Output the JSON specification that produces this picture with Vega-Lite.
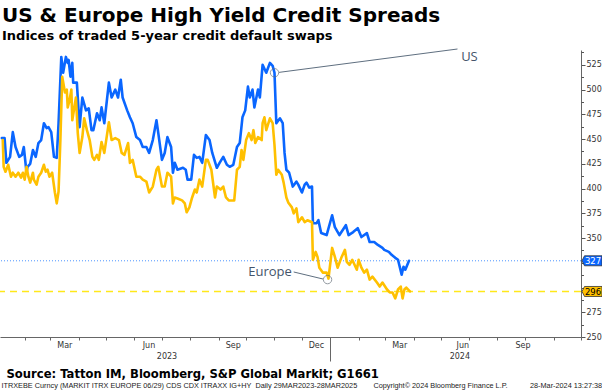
{
  "$schema": "https://vega.github.io/schema/vega-lite/v6.json",
  "width": 581,
  "height": 287,
  "autosize": {"type": "none"},
  "padding": {"left": 0, "top": 50, "right": 21, "bottom": 55},
  "background": "#ffffff",
  "config": {"view": {"stroke": null}},
  "title": {
    "text": "US & Europe High Yield Credit Spreads",
    "subtitle": "Indices of traded 5-year credit default swaps",
    "anchor": "start",
    "frame": "group",
    "font": "DejaVu Sans",
    "fontSize": 20,
    "fontWeight": "bold",
    "color": "#000000",
    "subtitleFont": "DejaVu Sans",
    "subtitleFontSize": 13,
    "subtitleFontWeight": "bold",
    "subtitleColor": "#000000",
    "subtitlePadding": 4,
    "offset": 4,
    "dx": 2
  },
  "datasets": {
    "series": [
      {"d":"2023-01-07","s":"US","v":451},{"d":"2023-01-10","s":"US","v":451},{"d":"2023-01-12","s":"US","v":426},{"d":"2023-01-16","s":"US","v":432},{"d":"2023-01-19","s":"US","v":457},{"d":"2023-01-22","s":"US","v":442},{"d":"2023-01-26","s":"US","v":432},{"d":"2023-01-29","s":"US","v":434},{"d":"2023-01-31","s":"US","v":442},{"d":"2023-02-03","s":"US","v":416},{"d":"2023-02-04","s":"US","v":422},{"d":"2023-02-07","s":"US","v":425},{"d":"2023-02-10","s":"US","v":439},{"d":"2023-02-13","s":"US","v":432},{"d":"2023-02-16","s":"US","v":446},{"d":"2023-02-19","s":"US","v":449},{"d":"2023-02-22","s":"US","v":466},{"d":"2023-02-25","s":"US","v":461},{"d":"2023-02-27","s":"US","v":462},{"d":"2023-03-02","s":"US","v":457},{"d":"2023-03-05","s":"US","v":432},{"d":"2023-03-08","s":"US","v":431},{"d":"2023-03-10","s":"US","v":466},{"d":"2023-03-13","s":"US","v":533},{"d":"2023-03-15","s":"US","v":517},{"d":"2023-03-18","s":"US","v":533},{"d":"2023-03-20","s":"US","v":527},{"d":"2023-03-21","s":"US","v":530},{"d":"2023-03-23","s":"US","v":513},{"d":"2023-03-25","s":"US","v":527},{"d":"2023-03-26","s":"US","v":507},{"d":"2023-03-30","s":"US","v":507},{"d":"2023-04-02","s":"US","v":462},{"d":"2023-04-05","s":"US","v":492},{"d":"2023-04-09","s":"US","v":479},{"d":"2023-04-12","s":"US","v":481},{"d":"2023-04-15","s":"US","v":459},{"d":"2023-04-17","s":"US","v":459},{"d":"2023-04-21","s":"US","v":476},{"d":"2023-04-24","s":"US","v":469},{"d":"2023-04-26","s":"US","v":482},{"d":"2023-04-29","s":"US","v":466},{"d":"2023-05-04","s":"US","v":507},{"d":"2023-05-07","s":"US","v":492},{"d":"2023-05-11","s":"US","v":500},{"d":"2023-05-14","s":"US","v":492},{"d":"2023-05-17","s":"US","v":510},{"d":"2023-05-19","s":"US","v":492},{"d":"2023-05-24","s":"US","v":479},{"d":"2023-05-27","s":"US","v":472},{"d":"2023-05-30","s":"US","v":466},{"d":"2023-06-03","s":"US","v":452},{"d":"2023-06-07","s":"US","v":449},{"d":"2023-06-10","s":"US","v":442},{"d":"2023-06-14","s":"US","v":442},{"d":"2023-06-17","s":"US","v":436},{"d":"2023-06-21","s":"US","v":449},{"d":"2023-06-25","s":"US","v":469},{"d":"2023-06-27","s":"US","v":456},{"d":"2023-07-01","s":"US","v":429},{"d":"2023-07-04","s":"US","v":436},{"d":"2023-07-07","s":"US","v":452},{"d":"2023-07-11","s":"US","v":442},{"d":"2023-07-13","s":"US","v":416},{"d":"2023-07-15","s":"US","v":426},{"d":"2023-07-18","s":"US","v":419},{"d":"2023-07-24","s":"US","v":421},{"d":"2023-07-27","s":"US","v":419},{"d":"2023-07-29","s":"US","v":409},{"d":"2023-08-02","s":"US","v":409},{"d":"2023-08-05","s":"US","v":434},{"d":"2023-08-08","s":"US","v":431},{"d":"2023-08-11","s":"US","v":432},{"d":"2023-08-14","s":"US","v":426},{"d":"2023-08-18","s":"US","v":454},{"d":"2023-08-22","s":"US","v":449},{"d":"2023-08-25","s":"US","v":436},{"d":"2023-08-30","s":"US","v":421},{"d":"2023-09-02","s":"US","v":426},{"d":"2023-09-06","s":"US","v":432},{"d":"2023-09-10","s":"US","v":424},{"d":"2023-09-13","s":"US","v":422},{"d":"2023-09-17","s":"US","v":424},{"d":"2023-09-21","s":"US","v":442},{"d":"2023-09-24","s":"US","v":446},{"d":"2023-09-27","s":"US","v":472},{"d":"2023-09-30","s":"US","v":479},{"d":"2023-10-03","s":"US","v":503},{"d":"2023-10-05","s":"US","v":492},{"d":"2023-10-08","s":"US","v":500},{"d":"2023-10-10","s":"US","v":482},{"d":"2023-10-14","s":"US","v":500},{"d":"2023-10-16","s":"US","v":492},{"d":"2023-10-19","s":"US","v":525},{"d":"2023-10-23","s":"US","v":517},{"d":"2023-10-27","s":"US","v":527},{"d":"2023-10-30","s":"US","v":524},{"d":"2023-11-01","s":"US","v":517},{"d":"2023-11-03","s":"US","v":466},{"d":"2023-11-07","s":"US","v":471},{"d":"2023-11-10","s":"US","v":466},{"d":"2023-11-12","s":"US","v":436},{"d":"2023-11-14","s":"US","v":419},{"d":"2023-11-17","s":"US","v":416},{"d":"2023-11-21","s":"US","v":402},{"d":"2023-11-25","s":"US","v":407},{"d":"2023-11-27","s":"US","v":404},{"d":"2023-12-01","s":"US","v":396},{"d":"2023-12-04","s":"US","v":404},{"d":"2023-12-06","s":"US","v":406},{"d":"2023-12-09","s":"US","v":401},{"d":"2023-12-12","s":"US","v":402},{"d":"2023-12-13","s":"US","v":365},{"d":"2023-12-17","s":"US","v":365},{"d":"2023-12-19","s":"US","v":368},{"d":"2023-12-22","s":"US","v":355},{"d":"2023-12-28","s":"US","v":353},{"d":"2024-01-03","s":"US","v":373},{"d":"2024-01-06","s":"US","v":361},{"d":"2024-01-11","s":"US","v":353},{"d":"2024-01-18","s":"US","v":363},{"d":"2024-01-21","s":"US","v":353},{"d":"2024-01-26","s":"US","v":356},{"d":"2024-01-31","s":"US","v":360},{"d":"2024-02-04","s":"US","v":351},{"d":"2024-02-10","s":"US","v":355},{"d":"2024-02-13","s":"US","v":346},{"d":"2024-02-18","s":"US","v":346},{"d":"2024-02-22","s":"US","v":343},{"d":"2024-02-27","s":"US","v":340},{"d":"2024-02-29","s":"US","v":338},{"d":"2024-03-05","s":"US","v":336},{"d":"2024-03-08","s":"US","v":333},{"d":"2024-03-12","s":"US","v":330},{"d":"2024-03-15","s":"US","v":328},{"d":"2024-03-19","s":"US","v":313},{"d":"2024-03-21","s":"US","v":321},{"d":"2024-03-23","s":"US","v":318},{"d":"2024-03-27","s":"US","v":327},
      {"d":"2023-01-08","s":"Europe","v":449},{"d":"2023-01-09","s":"Europe","v":422},{"d":"2023-01-11","s":"Europe","v":417},{"d":"2023-01-14","s":"Europe","v":424},{"d":"2023-01-17","s":"Europe","v":412},{"d":"2023-01-19","s":"Europe","v":416},{"d":"2023-01-22","s":"Europe","v":412},{"d":"2023-01-25","s":"Europe","v":416},{"d":"2023-01-28","s":"Europe","v":411},{"d":"2023-01-30","s":"Europe","v":416},{"d":"2023-02-01","s":"Europe","v":409},{"d":"2023-02-03","s":"Europe","v":422},{"d":"2023-02-05","s":"Europe","v":412},{"d":"2023-02-07","s":"Europe","v":406},{"d":"2023-02-10","s":"Europe","v":416},{"d":"2023-02-11","s":"Europe","v":409},{"d":"2023-02-14","s":"Europe","v":404},{"d":"2023-02-16","s":"Europe","v":412},{"d":"2023-02-19","s":"Europe","v":416},{"d":"2023-02-22","s":"Europe","v":424},{"d":"2023-02-24","s":"Europe","v":417},{"d":"2023-02-26","s":"Europe","v":419},{"d":"2023-02-28","s":"Europe","v":412},{"d":"2023-03-03","s":"Europe","v":416},{"d":"2023-03-06","s":"Europe","v":396},{"d":"2023-03-08","s":"Europe","v":385},{"d":"2023-03-10","s":"Europe","v":397},{"d":"2023-03-12","s":"Europe","v":449},{"d":"2023-03-14","s":"Europe","v":513},{"d":"2023-03-17","s":"Europe","v":497},{"d":"2023-03-19","s":"Europe","v":500},{"d":"2023-03-20","s":"Europe","v":482},{"d":"2023-03-22","s":"Europe","v":489},{"d":"2023-03-24","s":"Europe","v":500},{"d":"2023-03-25","s":"Europe","v":469},{"d":"2023-03-29","s":"Europe","v":492},{"d":"2023-03-31","s":"Europe","v":456},{"d":"2023-04-02","s":"Europe","v":436},{"d":"2023-04-05","s":"Europe","v":452},{"d":"2023-04-07","s":"Europe","v":471},{"d":"2023-04-10","s":"Europe","v":459},{"d":"2023-04-13","s":"Europe","v":449},{"d":"2023-04-16","s":"Europe","v":432},{"d":"2023-04-18","s":"Europe","v":429},{"d":"2023-04-21","s":"Europe","v":434},{"d":"2023-04-23","s":"Europe","v":429},{"d":"2023-04-26","s":"Europe","v":447},{"d":"2023-04-29","s":"Europe","v":436},{"d":"2023-05-04","s":"Europe","v":467},{"d":"2023-05-07","s":"Europe","v":449},{"d":"2023-05-11","s":"Europe","v":451},{"d":"2023-05-15","s":"Europe","v":449},{"d":"2023-05-18","s":"Europe","v":436},{"d":"2023-05-21","s":"Europe","v":434},{"d":"2023-05-25","s":"Europe","v":446},{"d":"2023-05-27","s":"Europe","v":426},{"d":"2023-05-30","s":"Europe","v":429},{"d":"2023-06-03","s":"Europe","v":412},{"d":"2023-06-07","s":"Europe","v":412},{"d":"2023-06-10","s":"Europe","v":409},{"d":"2023-06-14","s":"Europe","v":407},{"d":"2023-06-17","s":"Europe","v":396},{"d":"2023-06-21","s":"Europe","v":402},{"d":"2023-06-25","s":"Europe","v":419},{"d":"2023-06-27","s":"Europe","v":422},{"d":"2023-07-01","s":"Europe","v":402},{"d":"2023-07-04","s":"Europe","v":402},{"d":"2023-07-07","s":"Europe","v":416},{"d":"2023-07-11","s":"Europe","v":412},{"d":"2023-07-13","s":"Europe","v":385},{"d":"2023-07-15","s":"Europe","v":391},{"d":"2023-07-18","s":"Europe","v":390},{"d":"2023-07-23","s":"Europe","v":388},{"d":"2023-07-26","s":"Europe","v":385},{"d":"2023-07-28","s":"Europe","v":376},{"d":"2023-07-31","s":"Europe","v":381},{"d":"2023-08-03","s":"Europe","v":391},{"d":"2023-08-06","s":"Europe","v":399},{"d":"2023-08-08","s":"Europe","v":396},{"d":"2023-08-11","s":"Europe","v":409},{"d":"2023-08-14","s":"Europe","v":402},{"d":"2023-08-18","s":"Europe","v":429},{"d":"2023-08-20","s":"Europe","v":429},{"d":"2023-08-24","s":"Europe","v":419},{"d":"2023-08-28","s":"Europe","v":391},{"d":"2023-08-30","s":"Europe","v":402},{"d":"2023-09-03","s":"Europe","v":399},{"d":"2023-09-06","s":"Europe","v":402},{"d":"2023-09-09","s":"Europe","v":391},{"d":"2023-09-12","s":"Europe","v":388},{"d":"2023-09-15","s":"Europe","v":388},{"d":"2023-09-18","s":"Europe","v":388},{"d":"2023-09-21","s":"Europe","v":419},{"d":"2023-09-24","s":"Europe","v":422},{"d":"2023-09-26","s":"Europe","v":439},{"d":"2023-09-28","s":"Europe","v":429},{"d":"2023-10-01","s":"Europe","v":449},{"d":"2023-10-04","s":"Europe","v":456},{"d":"2023-10-07","s":"Europe","v":449},{"d":"2023-10-09","s":"Europe","v":459},{"d":"2023-10-11","s":"Europe","v":446},{"d":"2023-10-14","s":"Europe","v":452},{"d":"2023-10-18","s":"Europe","v":449},{"d":"2023-10-19","s":"Europe","v":466},{"d":"2023-10-21","s":"Europe","v":472},{"d":"2023-10-23","s":"Europe","v":459},{"d":"2023-10-27","s":"Europe","v":471},{"d":"2023-10-30","s":"Europe","v":466},{"d":"2023-11-01","s":"Europe","v":444},{"d":"2023-11-03","s":"Europe","v":414},{"d":"2023-11-05","s":"Europe","v":419},{"d":"2023-11-09","s":"Europe","v":414},{"d":"2023-11-11","s":"Europe","v":406},{"d":"2023-11-14","s":"Europe","v":391},{"d":"2023-11-16","s":"Europe","v":386},{"d":"2023-11-20","s":"Europe","v":381},{"d":"2023-11-22","s":"Europe","v":375},{"d":"2023-11-25","s":"Europe","v":380},{"d":"2023-11-27","s":"Europe","v":366},{"d":"2023-12-01","s":"Europe","v":371},{"d":"2023-12-04","s":"Europe","v":366},{"d":"2023-12-07","s":"Europe","v":368},{"d":"2023-12-12","s":"Europe","v":366},{"d":"2023-12-13","s":"Europe","v":328},{"d":"2023-12-16","s":"Europe","v":336},{"d":"2023-12-18","s":"Europe","v":331},{"d":"2023-12-20","s":"Europe","v":320},{"d":"2023-12-24","s":"Europe","v":315},{"d":"2023-12-28","s":"Europe","v":315},{"d":"2023-12-30","s":"Europe","v":309},{"d":"2024-01-03","s":"Europe","v":340},{"d":"2024-01-06","s":"Europe","v":331},{"d":"2024-01-09","s":"Europe","v":320},{"d":"2024-01-13","s":"Europe","v":330},{"d":"2024-01-17","s":"Europe","v":338},{"d":"2024-01-19","s":"Europe","v":326},{"d":"2024-01-22","s":"Europe","v":323},{"d":"2024-01-25","s":"Europe","v":328},{"d":"2024-01-30","s":"Europe","v":318},{"d":"2024-02-01","s":"Europe","v":328},{"d":"2024-02-04","s":"Europe","v":320},{"d":"2024-02-07","s":"Europe","v":315},{"d":"2024-02-10","s":"Europe","v":318},{"d":"2024-02-13","s":"Europe","v":308},{"d":"2024-02-16","s":"Europe","v":311},{"d":"2024-02-21","s":"Europe","v":305},{"d":"2024-02-24","s":"Europe","v":301},{"d":"2024-02-27","s":"Europe","v":305},{"d":"2024-03-03","s":"Europe","v":298},{"d":"2024-03-06","s":"Europe","v":295},{"d":"2024-03-09","s":"Europe","v":295},{"d":"2024-03-12","s":"Europe","v":289},{"d":"2024-03-15","s":"Europe","v":298},{"d":"2024-03-18","s":"Europe","v":301},{"d":"2024-03-20","s":"Europe","v":289},{"d":"2024-03-22","s":"Europe","v":298},{"d":"2024-03-24","s":"Europe","v":300},{"d":"2024-03-28","s":"Europe","v":296}
    ],
    "last": [
      {"d":"2024-10-01","s":"US","v":327,"lab":"327"},
      {"d":"2024-10-01","s":"Europe","v":296,"lab":"296"}
    ]
  },
  "resolve": {"axis": {"x": "independent", "y": "independent"}},
  "layer": [
    {
      "data": {"values": [{"s":"US","v":327}]},
      "mark": {"type": "rule", "color": "#4d94ff", "strokeWidth": 1, "strokeDash": [1, 2]},
      "encoding": {"y": {"field": "v", "type": "quantitative", "axis": null}}
    },
    {
      "data": {"values": [{"s":"Europe","v":296}]},
      "mark": {"type": "rule", "color": "#ffe81a", "strokeWidth": 1.4, "strokeDash": [7, 5]},
      "encoding": {"y": {"field": "v", "type": "quantitative", "axis": null}}
    },
    {
      "data": {"name": "series"},
      "mark": {"type": "line", "strokeWidth": 2.6, "strokeJoin": "round", "strokeCap": "round"},
      "encoding": {
        "x": {
          "field": "d", "type": "temporal",
          "scale": {"domain": [{"year": 2023, "month": 1, "date": 5}, {"year": 2024, "month": 10, "date": 1}]},
          "axis": {
            "orient": "bottom",
            "zindex": 0,
            "grid": false,
            "tickCount": {"interval": "month", "step": 1},
            "labelExpr": "indexof([2,5,8,11], month(datum.value)) >= 0 ? timeFormat(datum.value, '%b') : ''",
            "labelOffset": {"condition": [{"test": "year(datum.value) == 2024 && month(datum.value) == 5", "value": -7}, {"test": "year(datum.value) == 2024 && month(datum.value) == 8", "value": -31}], "value": 14},
            "labelOverlap": false,
            "labelFlush": false,
            "labelBound": false,
            "labelFont": "DejaVu Sans",
            "labelFontSize": 8,
            "labelColor": "#333333",
            "labelPadding": 1,
            "tickSize": {"condition": {"test": "month(datum.value) == 0", "value": 24}, "value": 3},
            "tickColor": "#666666",
            "domainColor": "#666666",
            "title": "ITRXEBE Curncy (MARKIT ITRX EUROPE 06/29) CDS CDX ITRAXX IG+HY\u00a0\u00a0Daily 29MAR2023-28MAR2025\u00a0\u00a0\u00a0\u00a0\u00a0\u00a0\u00a0\u00a0Copyright\u00a9 2024 Bloomberg Finance L.P.\u00a0\u00a0\u00a0\u00a0\u00a0\u00a0\u00a0\u00a0\u00a0\u00a0\u00a028-Mar-2024 13:27:38",
            "titleX": 1,
            "titleY": 48,
            "titleAlign": "left",
            "titleBaseline": "middle",
            "titleFont": "Liberation Sans",
            "titleFontSize": 7.3,
            "titleFontWeight": "normal",
            "titleColor": "#222222"
          }
        },
        "y": {
          "field": "v", "type": "quantitative",
          "scale": {"domain": [250, 540], "nice": false, "zero": false},
          "axis": {
            "orient": "right",
            "zindex": 0,
            "grid": false,
            "values": [250, 275, 300, 325, 350, 375, 400, 425, 450, 475, 500, 525],
            "labelExpr": "datum.value == 300 || datum.value == 325 ? '' : datum.label",
            "tickSize": 4,
            "tickColor": "#555555",
            "domainColor": "#666666",
            "labelFont": "DejaVu Sans",
            "labelFontSize": 8,
            "labelColor": "#333333",
            "labelPadding": 1,
            "title": null
          }
        },
        "color": {"field": "s", "type": "nominal", "scale": {"domain": ["US", "Europe"], "range": ["#0a66ff", "#ffc000"]}, "legend": null}
      }
    },
    {
      "data": {"values": [{"v": 262.5}]},
      "mark": {"type": "point", "opacity": 0},
      "encoding": {
        "y": {
          "field": "v", "type": "quantitative",
          "axis": {
            "orient": "right", "zindex": 0, "grid": false, "labels": false, "domain": false,
            "values": [262.5, 287.5, 312.5, 337.5, 362.5, 387.5, 412.5, 437.5, 462.5, 487.5, 512.5, 537.5],
            "tickSize": 2.5, "tickColor": "#555555", "title": null
          }
        }
      }
    },
    {
      "data": {"values": [{"d": "2023-07-05"}]},
      "mark": {"type": "point", "opacity": 0},
      "encoding": {
        "x": {
          "field": "d", "type": "temporal",
          "axis": {
            "orient": "bottom", "zindex": 0, "grid": false, "domain": false, "ticks": false,
            "values": [{"year": 2023, "month": 7, "date": 6}, {"year": 2024, "month": 5, "date": 21}],
            "format": "%Y",
            "labelPadding": 15,
            "labelFlush": false,
            "labelOverlap": false,
            "labelFont": "DejaVu Sans",
            "labelFontSize": 8,
            "labelColor": "#333333",
            "title": "Source: Tatton IM, Bloomberg, S&P Global Markit; G1661",
            "titleX": 6,
            "titleY": 40,
            "titleAlign": "left",
            "titleBaseline": "alphabetic",
            "titleFont": "DejaVu Sans",
            "titleFontSize": 11.6,
            "titleFontWeight": "bold",
            "titleColor": "#000000"
          }
        }
      }
    },
    {
      "data": {"values": [{"g": "US", "d": "2023-11-06", "v": 517.4}, {"g": "US", "d": "2024-05-19", "v": 541}, {"g": "EU", "d": "2023-11-22", "v": 315.7}, {"g": "EU", "d": "2023-12-24", "v": 308.6}]},
      "mark": {"type": "line", "color": "#5f6f80", "strokeWidth": 1, "clip": false},
      "encoding": {
        "x": {"field": "d", "type": "temporal", "axis": null},
        "y": {"field": "v", "type": "quantitative", "axis": null},
        "detail": {"field": "g"}
      }
    },
    {
      "data": {"values": [{"d": "2023-11-01", "v": 517}, {"d": "2023-12-29", "v": 308}]},
      "mark": {"type": "point", "shape": "circle", "size": 70, "filled": false, "stroke": "#66707a", "strokeWidth": 1},
      "encoding": {
        "x": {"field": "d", "type": "temporal", "axis": null},
        "y": {"field": "v", "type": "quantitative", "axis": null}
      }
    },
    {
      "data": {"values": [{"d": "2024-05-23", "v": 533, "t": "US"}]},
      "mark": {"type": "text", "align": "left", "baseline": "middle", "font": "Open Sans", "fontSize": 13, "color": "#44546a"},
      "encoding": {
        "x": {"field": "d", "type": "temporal", "axis": null},
        "y": {"field": "v", "type": "quantitative", "axis": null},
        "text": {"field": "t"}
      }
    },
    {
      "data": {"values": [{"d": "2023-11-20", "v": 316, "t": "Europe"}]},
      "mark": {"type": "text", "align": "right", "baseline": "middle", "font": "Open Sans", "fontSize": 13, "color": "#44546a"},
      "encoding": {
        "x": {"field": "d", "type": "temporal", "axis": null},
        "y": {"field": "v", "type": "quantitative", "axis": null},
        "text": {"field": "t"}
      }
    },
    {
      "data": {"name": "last"},
      "mark": {"type": "point", "shape": "M-1,0L-0.75,-0.5L1,-0.5L1,0.5L-0.75,0.5Z", "size": 400, "filled": true, "opacity": 1, "stroke": "#333333", "strokeWidth": 0.8, "xOffset": 11, "clip": false},
      "encoding": {
        "x": {"field": "d", "type": "temporal", "axis": null},
        "y": {"field": "v", "type": "quantitative", "axis": null},
        "color": {"field": "s", "type": "nominal", "legend": null}
      }
    },
    {
      "data": {"name": "last"},
      "mark": {"type": "text", "align": "center", "baseline": "middle", "font": "DejaVu Sans", "fontSize": 8.5, "xOffset": 12, "dy": 0.5, "clip": false},
      "encoding": {
        "x": {"field": "d", "type": "temporal", "axis": null},
        "y": {"field": "v", "type": "quantitative", "axis": null},
        "text": {"field": "lab"},
        "color": {"condition": {"test": "datum.s == 'US'", "value": "#ffffff"}, "value": "#000000"}
      }
    }
  ]
}
